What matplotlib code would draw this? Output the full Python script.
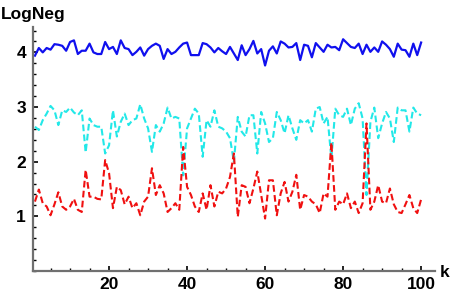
import numpy as np
import matplotlib.pyplot as plt
from matplotlib.ticker import MultipleLocator

# ---- data (k = 1..100) ----
k = np.arange(1, 101)

log_neg_blue = [3.94, 4.08, 4.00, 4.08, 4.05, 4.15, 4.14, 4.12, 4.03, 4.19,
                4.22, 3.97, 4.03, 4.03, 4.16, 4.00, 3.97, 3.97, 4.19, 4.06,
                4.10, 3.97, 4.22, 4.08, 4.06, 3.95, 4.01, 4.09, 3.94, 4.06,
                4.12, 4.16, 4.12, 3.88, 4.06, 3.97, 4.01, 4.09, 4.16, 4.18,
                3.95, 3.95, 3.95, 4.17, 4.15, 4.09, 4.00, 4.08, 4.02, 3.97,
                4.10, 3.98, 3.86, 4.13, 3.95, 4.06, 4.21, 3.98, 4.06, 3.76,
                4.03, 4.11, 3.98, 4.20, 4.16, 4.09, 4.10, 4.17, 3.86, 4.14,
                4.12, 3.91, 4.17, 4.09, 4.01, 4.14, 4.09, 4.10, 4.04, 4.24,
                4.17, 4.10, 4.08, 4.16, 3.97, 4.14, 4.01, 4.09, 4.01, 4.20,
                4.14, 4.06, 3.92, 4.16, 4.05, 4.04, 3.92, 4.16, 3.95, 4.18]

log_neg_cyan = [2.64, 2.58, 2.76, 2.88, 3.02, 2.94, 2.67, 2.94, 2.91, 2.99,
                2.90, 2.85, 2.94, 2.17, 2.79, 2.67, 2.64, 2.64, 2.15, 2.30,
                2.94, 2.46, 2.73, 2.88, 2.67, 2.76, 2.79, 3.05, 2.79, 2.61,
                2.18, 2.67, 2.55, 2.70, 2.99, 2.79, 2.82, 2.79, 1.75, 2.61,
                2.79, 2.97, 2.88, 2.09, 2.76, 2.64, 2.94, 2.64, 2.61, 2.55,
                2.43, 2.00, 2.82, 2.55, 2.46, 2.85, 2.85, 2.15, 2.91, 2.70,
                2.36, 2.43, 2.91, 2.76, 2.52, 2.85, 2.61, 2.40, 2.76, 2.70,
                2.76, 2.55, 2.97, 3.00, 2.70, 2.82, 2.05, 2.97, 2.85, 2.82,
                2.97, 2.67, 2.97, 3.07, 2.79, 1.39, 2.73, 2.99, 2.43, 2.70,
                2.91, 2.79, 2.36, 2.99, 2.94, 2.94, 2.55, 2.99, 2.88, 2.85]

log_neg_red = [1.27, 1.49, 1.24, 1.18, 1.02, 1.22, 1.44, 1.18, 1.12, 1.18,
               1.32, 1.12, 1.08, 1.85, 1.36, 1.36, 1.32, 1.31, 2.03, 1.79,
               1.15, 1.54, 1.48, 1.22, 1.36, 1.15, 1.24, 1.02, 1.27, 1.36,
               1.88, 1.39, 1.57, 1.42, 1.08, 1.15, 1.24, 1.12, 2.27, 1.54,
               1.39, 1.18, 1.08, 1.42, 1.12, 1.57, 1.18, 1.45, 1.42, 1.51,
               1.72, 2.15, 0.99, 1.57, 1.54, 1.24, 1.51, 1.82, 1.39, 0.96,
               1.66, 1.66, 1.02, 1.42, 1.63, 1.27, 1.45, 1.76, 1.12, 1.39,
               1.36, 1.27, 1.22, 1.06, 1.42, 1.36, 2.35, 1.12, 1.27, 1.22,
               1.42, 1.15, 1.27, 1.06, 1.24, 2.70, 1.12, 1.27, 1.57, 1.27,
               1.24, 1.51, 1.22, 1.08, 1.06, 1.22, 1.39, 1.15, 1.06, 1.31]

x_ticks = [20, 40, 60, 80, 100]
y_ticks = [1, 2, 3, 4]

# ---- style ----
plt.rcParams['font.family'] = ['Liberation Sans', 'DejaVu Sans']
plt.rcParams['font.weight'] = 'bold'

fig = plt.figure(figsize=(4.57, 2.98), dpi=100)
ax = fig.add_axes([0.0722, 0.0906, 0.880, 0.818])

ax.plot(k, log_neg_blue, color='#1010ee', lw=1.6)
ax.plot(k, log_neg_cyan, color='#22e8e8', lw=1.5, linestyle=(0, (3.2, 1.6)))
ax.plot(k, log_neg_red, color='#f01010', lw=1.5, linestyle=(0, (3.2, 1.6)))

ax.set_xlim(0.5, 103.6)
ax.set_ylim(0, 4.46)

for s in ['top', 'right']:
    ax.spines[s].set_visible(False)
for s in ['left', 'bottom']:
    ax.spines[s].set_color('#707070')
    ax.spines[s].set_linewidth(1.6)

ax.set_xticks(x_ticks)
ax.set_yticks(y_ticks)
ax.xaxis.set_minor_locator(MultipleLocator(5))
ax.yaxis.set_minor_locator(MultipleLocator(0.2))
ax.tick_params(which='major', direction='in', length=3.5, width=1.2,
               color='black', labelsize=12.5, pad=4)
ax.tick_params(which='minor', direction='in', length=2, width=1.0,
               color='black')
ax.tick_params(axis='y', which='major', pad=5)
for lab in ax.get_xticklabels() + ax.get_yticklabels():
    lab.set_fontweight('bold')

fig.text(0.002, 0.95, "LogNeg", fontsize=12.5, fontweight='bold',
         ha='left', va='center')
fig.text(0.972, 0.087, "k", fontsize=12.5, fontweight='bold',
         ha='center', va='center')

plt.savefig('out.png', dpi=100)
